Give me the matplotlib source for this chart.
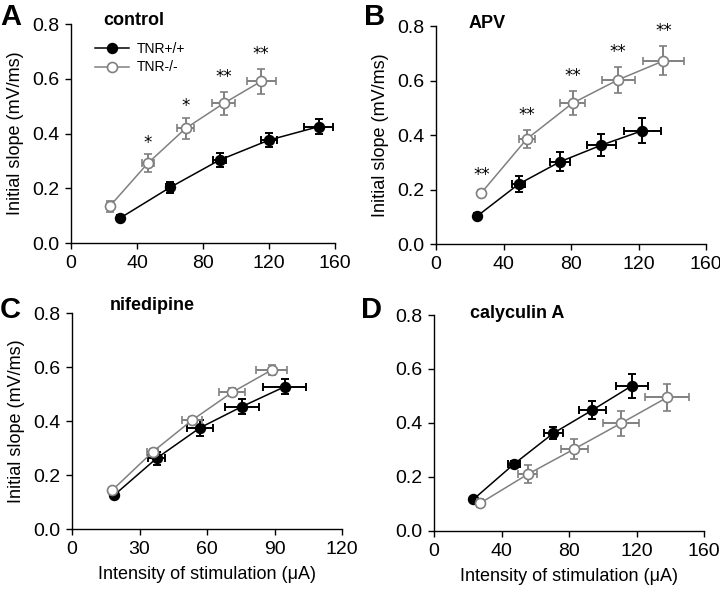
import matplotlib
matplotlib.use("Agg")
import matplotlib.pyplot as plt
from matplotlib.lines import Line2D

plt.rcParams["font.family"] = ["Liberation Sans", "DejaVu Sans"]

GREY = "#808080"

# panel A - control
a_wt_x = [30, 60, 90, 120, 150]
a_wt_y = [0.092, 0.203, 0.303, 0.376, 0.425]
a_wt_xerr = [1.5, 2.5, 4, 5, 8.7]
a_wt_yerr = [0.01, 0.021, 0.025, 0.025, 0.027]
a_ko_x = [23.6, 46.5, 69.5, 92.5, 115.3]
a_ko_y = [0.135, 0.291, 0.419, 0.510, 0.591]
a_ko_xerr = [2, 3.7, 5.2, 7, 8.7]
a_ko_yerr = [0.02, 0.033, 0.038, 0.043, 0.045]
a_stars = ["", "*", "*", "**", "**"]

# panel B - APV
b_wt_x = [24.5, 49, 73.5, 98, 122.3]
b_wt_y = [0.103, 0.220, 0.302, 0.363, 0.416]
b_wt_xerr = [1.5, 4, 6, 8.6, 11]
b_wt_yerr = [0.01, 0.028, 0.035, 0.04, 0.046]
b_ko_x = [26.9, 53.7, 80.9, 108, 134.7]
b_ko_y = [0.188, 0.385, 0.517, 0.603, 0.672]
b_ko_xerr = [1.5, 4.7, 7.2, 9.7, 12]
b_ko_yerr = [0.01, 0.032, 0.044, 0.048, 0.053]
b_stars = ["**", "**", "**", "**", "**"]

# panel C - nifedipine
c_wt_x = [18.8, 37.6, 56.9, 75.4, 94.5]
c_wt_y = [0.126, 0.262, 0.375, 0.453, 0.527]
c_wt_xerr = [1, 3.7, 5.8, 7.6, 9.5]
c_wt_yerr = [0.01, 0.025, 0.029, 0.027, 0.028]
c_ko_x = [17.9, 35.9, 53.5, 71.1, 88.7]
c_ko_y = [0.144, 0.286, 0.404, 0.506, 0.589]
c_ko_xerr = [1, 2.4, 4.4, 5.7, 6.8]
c_ko_yerr = [0.008, 0.01, 0.012, 0.015, 0.02]

# panel D - calyculin A
d_wt_x = [23.3, 47.4, 70.7, 93.9, 117.3]
d_wt_y = [0.117, 0.248, 0.362, 0.448, 0.538]
d_wt_xerr = [1, 3.7, 5.7, 7.9, 9.7]
d_wt_yerr = [0.008, 0.01, 0.023, 0.033, 0.045]
d_ko_x = [27.4, 55.5, 83.2, 110.8, 138.3]
d_ko_y = [0.103, 0.21, 0.304, 0.399, 0.495]
d_ko_xerr = [2, 5.6, 8.1, 10.7, 13]
d_ko_yerr = [0.015, 0.033, 0.038, 0.047, 0.05]

yticks = [0.0, 0.2, 0.4, 0.6, 0.8]


def draw_panel(ax, wt, ko, xmax, xstep, title, title_x, title_y, stars=None):
    ax.errorbar(wt[0], wt[1], xerr=wt[2], yerr=wt[3], color="black", lw=1.1,
                marker="o", ms=7.2, mfc="black", mec="black",
                elinewidth=1.4, capsize=2.8, capthick=1.4, zorder=3)
    ax.errorbar(ko[0], ko[1], xerr=ko[2], yerr=ko[3], color=GREY, lw=1.1,
                marker="o", ms=7.2, mfc="white", mec=GREY, mew=1.2,
                elinewidth=1.4, capsize=2.8, capthick=1.4, zorder=4)
    if stars:
        for x, y, e, s in zip(ko[0], ko[1], ko[3], stars):
            if s:
                gap = 0.042 if s == "*" else 0.055
                ax.text(x, y + e + gap, s, ha="center", va="center", fontsize=12,
                        family="DejaVu Sans")
    ax.set_xlim(0, xmax)
    ax.set_ylim(0, 0.8)
    ax.set_xticks(range(0, xmax + 1, xstep))
    ax.set_yticks(yticks)
    ax.set_yticklabels([f"{v:.1f}" for v in yticks])
    ax.spines["top"].set_visible(False)
    ax.spines["right"].set_visible(False)
    for s in ("left", "bottom"):
        ax.spines[s].set_linewidth(1.0)
    ax.tick_params(direction="out", length=4.5, width=1.0, labelsize=14, pad=4)
    ax.text(title_x, title_y, title, transform=ax.transAxes, fontsize=13,
            fontweight="bold", ha="left", va="baseline")


fig = plt.figure(figsize=(7.2, 5.93), dpi=100)
ax_a = fig.add_axes([0.0986, 0.5902, 0.3667, 0.3693])
ax_b = fig.add_axes([0.6056, 0.5885, 0.375, 0.3676])
ax_c = fig.add_axes([0.1000, 0.1079, 0.375, 0.3642])
ax_d = fig.add_axes([0.6028, 0.1046, 0.375, 0.3642])

draw_panel(ax_a, (a_wt_x, a_wt_y, a_wt_xerr, a_wt_yerr),
           (a_ko_x, a_ko_y, a_ko_xerr, a_ko_yerr), 160, 40, "control", 0.121, 0.995, a_stars)
draw_panel(ax_b, (b_wt_x, b_wt_y, b_wt_xerr, b_wt_yerr),
           (b_ko_x, b_ko_y, b_ko_xerr, b_ko_yerr), 160, 40, "APV", 0.12, 0.989, b_stars)
draw_panel(ax_c, (c_wt_x, c_wt_y, c_wt_xerr, c_wt_yerr),
           (c_ko_x, c_ko_y, c_ko_xerr, c_ko_yerr), 120, 30, "nifedipine", 0.141, 1.014)
draw_panel(ax_d, (d_wt_x, d_wt_y, d_wt_xerr, d_wt_yerr),
           (d_ko_x, d_ko_y, d_ko_xerr, d_ko_yerr), 160, 40, "calyculin A", 0.133, 0.986)

for ax in (ax_a, ax_b, ax_c):
    ax.set_ylabel("Initial slope (mV/ms)", fontsize=13, labelpad=6)
for ax in (ax_c, ax_d):
    ax.set_xlabel("Intensity of stimulation (\u03bcA)", fontsize=13, labelpad=6)

handles = [
    Line2D([], [], color="black", lw=1.1, marker="o", ms=7.2, mfc="black", mec="black"),
    Line2D([], [], color=GREY, lw=1.1, marker="o", ms=7.2, mfc="white", mec=GREY, mew=1.2),
]
ax_a.legend(handles, ["TNR+/+", "TNR-/-"], loc="upper left", bbox_to_anchor=(0.09, 0.92),
            frameon=False, fontsize=10, handlelength=2.5, handletextpad=0.55,
            labelspacing=0.35, borderpad=0, borderaxespad=0)

for label, x, y in [("A", 0.0, 0.995), ("B", 0.505, 0.995),
                    ("C", 0.0, 0.5), ("D", 0.502, 0.5)]:
    fig.text(x, y, label, fontsize=21, fontweight="bold", ha="left", va="top")

fig.savefig("out.png", dpi=100)
